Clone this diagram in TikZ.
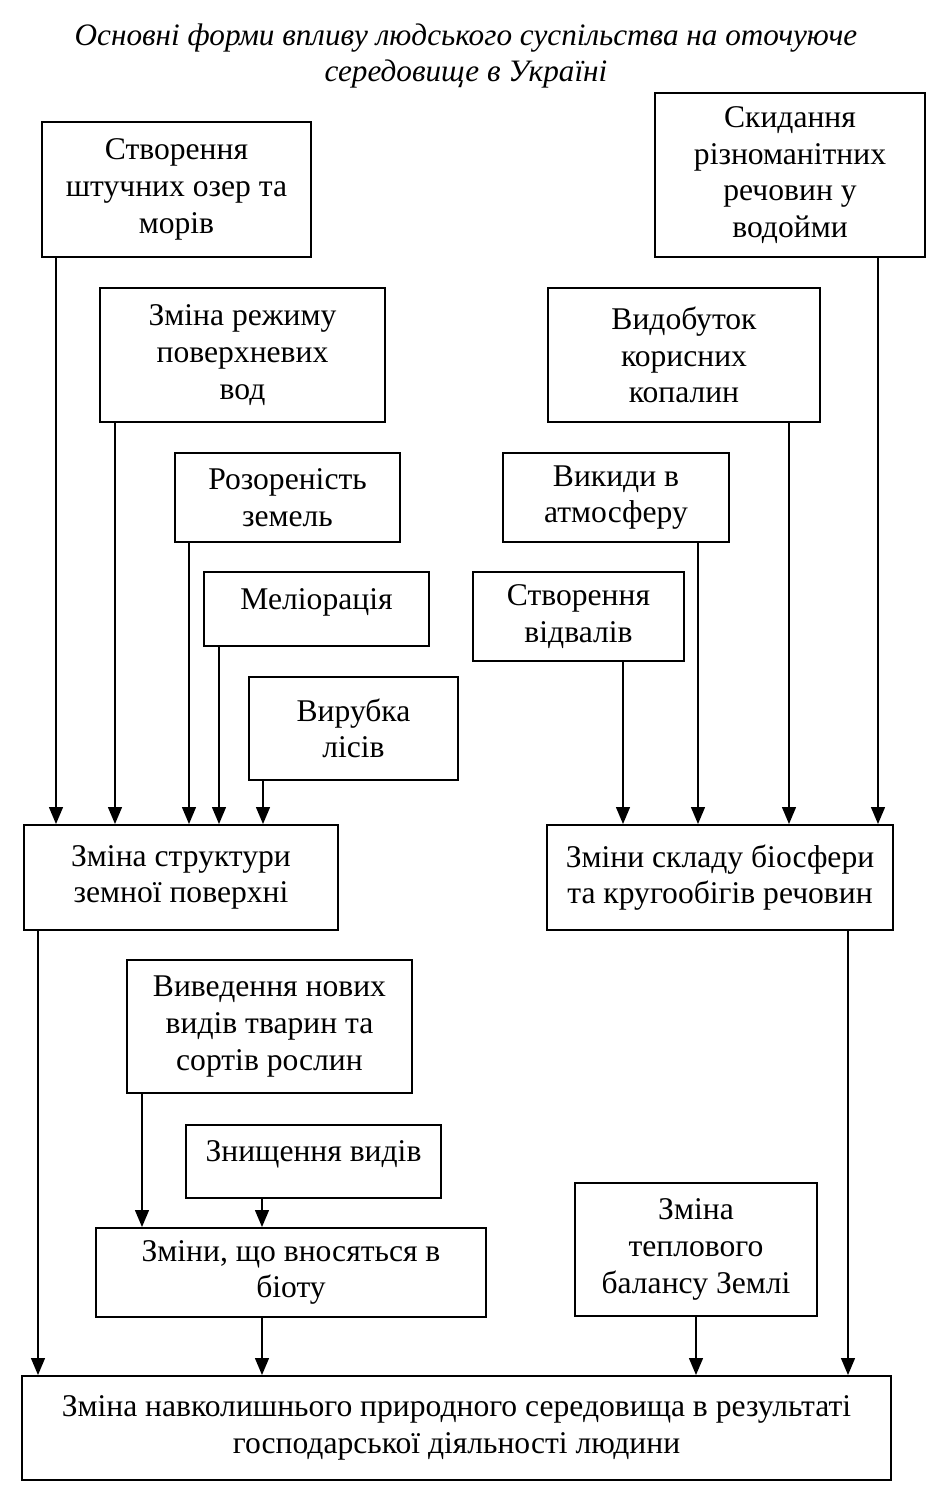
\documentclass[tikz,border=0pt]{standalone}
\usepackage{fontspec}
\setmainfont{Liberation Serif}
\usetikzlibrary{positioning, arrows.meta}

\tikzset{
  blok/.style={draw, line width=1pt, align=center, inner sep=0pt,
               font=\fontsize{15.8}{18.3}\selectfont},
  rozmir/.style 2 args={minimum width=#1, minimum height=#2},
  strilka/.style={-{Triangle[width=7pt,length=8.5pt]}, line width=0.7pt},
}

\begin{document}
\begin{tikzpicture}[x=0.5pt, y=-0.5pt]
  \useasboundingbox (0,0) rectangle (933,1503);

  % title
  \node[align=center, font=\fontsize{15.6}{18.2}\selectfont\itshape] (title) at (466,56)
        {Основні форми впливу людського суспільства на оточуюче\\середовище в Україні};

  % left column
  \node[blok, rozmir={134.5pt}{67.5pt}] (s1) at (176.5,189.5) {Створення\\штучних озер та\\морів};
  \node[blok, rozmir={142.5pt}{67pt}] (s3) at (242.5,355) {Зміна режиму\\поверхневих\\вод};
  \node[blok, rozmir={112.5pt}{44.5pt}] (s5) at (287.5,497.5) {Розореність\\земель};
  \node[blok, rozmir={112.5pt}{37pt}, text depth=10pt] (s7) at (316.5,609) {Меліорація};
  \node[blok, rozmir={104.5pt}{51.5pt}] (s9) at (353.5,728.5) {Вирубка\\лісів};

  % right column
  \node[blok, rozmir={135pt}{82pt}] (s2) at (790,175) {Скидання\\різноманітних\\речовин у\\водойми};
  \node[blok, rozmir={136pt}{67pt}] (s4) at (684,355) {Видобуток\\корисних\\копалин};
  \node[blok, rozmir={113pt}{44.5pt}] (s6) at (616,497.5) {Викиди в\\атмосферу};
  \node[blok, rozmir={105.5pt}{44.5pt}] (s8) at (578.5,616.5) {Створення\\відвалів};

  % middle level
  \node[blok, rozmir={157pt}{52.5pt}] (z1) at (181,877.5) {Зміна структури\\земної поверхні};
  \node[blok, rozmir={173pt}{52.5pt}] (z2) at (720,877.5) {Зміни складу біосфери\\та кругообігів речовин};

  % biota
  \node[blok, rozmir={142.5pt}{66.5pt}] (s10) at (269.5,1026.5) {Виведення нових\\видів тварин та\\сортів рослин};
  \node[blok, rozmir={127.5pt}{36.5pt}, text depth=10pt] (s11) at (313.5,1161.5) {Знищення видів};
  \node[blok, rozmir={195pt}{44.5pt}] (z3) at (291,1272.5) {Зміни, що вносяться в\\біоту};
  \node[blok, rozmir={121pt}{66.5pt}] (s12) at (696,1249.5) {Зміна\\теплового\\балансу Землі};

  % result
  \node[blok, rozmir={434.5pt}{52pt}] (res) at (456.5,1428)
        {Зміна навколишнього природного середовища в результаті\\господарської діяльності людини};

  % arrows to z1
  \draw[strilka] (s1.south -| 56,0) -- (z1.north -| 56,0);
  \draw[strilka] (s3.south -| 115,0) -- (z1.north -| 115,0);
  \draw[strilka] (s5.south -| 189,0) -- (z1.north -| 189,0);
  \draw[strilka] (s7.south -| 219,0) -- (z1.north -| 219,0);
  \draw[strilka] (s9.south -| 263,0) -- (z1.north -| 263,0);

  % arrows to z2
  \draw[strilka] (s8.south -| 623,0) -- (z2.north -| 623,0);
  \draw[strilka] (s6.south -| 698,0) -- (z2.north -| 698,0);
  \draw[strilka] (s4.south -| 789,0) -- (z2.north -| 789,0);
  \draw[strilka] (s2.south -| 878,0) -- (z2.north -| 878,0);

  % arrows to z3
  \draw[strilka] (s10.south -| 142,0) -- (z3.north -| 142,0);
  \draw[strilka] (s11.south -| 262,0) -- (z3.north -| 262,0);

  % arrows to result
  \draw[strilka] (z1.south -| 38,0) -- (res.north -| 38,0);
  \draw[strilka] (z3.south -| 262,0) -- (res.north -| 262,0);
  \draw[strilka] (s12.south -| 696,0) -- (res.north -| 696,0);
  \draw[strilka] (z2.south -| 848,0) -- (res.north -| 848,0);

\end{tikzpicture}
\end{document}
